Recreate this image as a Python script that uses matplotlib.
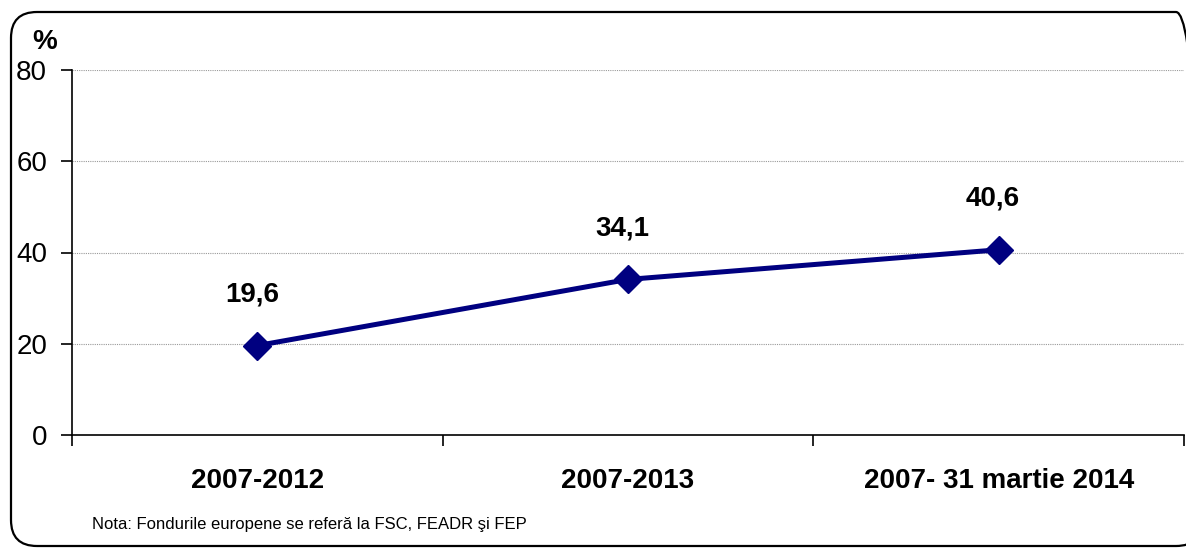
import matplotlib.pyplot as plt
from matplotlib.patches import FancyBboxPatch
from matplotlib.transforms import IdentityTransform

# Data
periods = ["2007-2012", "2007-2013", "2007- 31 martie 2014"]
values = [19.6, 34.1, 40.6]
value_labels = ["19,6", "34,1", "40,6"]
y_ticks = [0, 20, 40, 60, 80]

plt.rcParams["font.family"] = ["Liberation Sans", "DejaVu Sans"]

W, H = 1186, 548
fig = plt.figure(figsize=(W / 100, H / 100), dpi=100)
ax = fig.add_axes([72 / W, 1 - 435 / H, (1184 - 72) / W, (435 - 70) / H])

x = list(range(len(periods)))
ax.plot(x, values, color="#000080", linewidth=3.6, marker="D",
        markersize=14, zorder=3, clip_on=False)

# Data labels with white background
for xi, v, lab in zip(x, values, value_labels):
    ax.annotate(lab, (xi, v), xytext=(-4, 37), textcoords="offset points",
                ha="center", va="center", fontsize=20, fontweight="bold",
                bbox=dict(boxstyle="square,pad=0.3", fc="white", ec="none"),
                zorder=4)

ax.set_xlim(-0.5, len(periods) - 0.5)
ax.set_ylim(0, 80)
ax.set_yticks(y_ticks)
ax.tick_params(axis="y", labelsize=20, length=8, width=1.2, pad=10)

ax.set_xticks(x)
ax.set_xticklabels(periods, fontsize=20, fontweight="bold")
ax.set_xticks([i - 0.5 for i in range(len(periods) + 1)], minor=True)
ax.tick_params(axis="x", which="major", length=0, pad=24)
ax.tick_params(axis="x", which="minor", length=8, width=1.2)

for y in y_ticks[1:]:
    ax.axhline(y, color="#999999", linewidth=0.8, linestyle=(0, (1, 1)), zorder=1)

ax.spines["top"].set_visible(False)
ax.spines["right"].set_visible(False)
ax.spines["left"].set_linewidth(1.2)
ax.spines["bottom"].set_linewidth(1.2)

fig.text(32 / W, 1 - 42 / H, "%", fontsize=20, fontweight="bold", va="center")
fig.text(92 / W, 1 - 525 / H, "Nota: Fondurile europene se referă la FSC, FEADR şi FEP",
         fontsize=12, va="center")

# Rounded outer border (pixel coordinates, origin bottom-left)
border = FancyBboxPatch((11, H - 546), 1202 - 11, 546 - 12,
                        boxstyle="round,pad=0,rounding_size=26",
                        transform=IdentityTransform(), fill=False,
                        edgecolor="black", linewidth=1.6)
fig.patches.append(border)

fig.savefig("out.png", dpi=100)
